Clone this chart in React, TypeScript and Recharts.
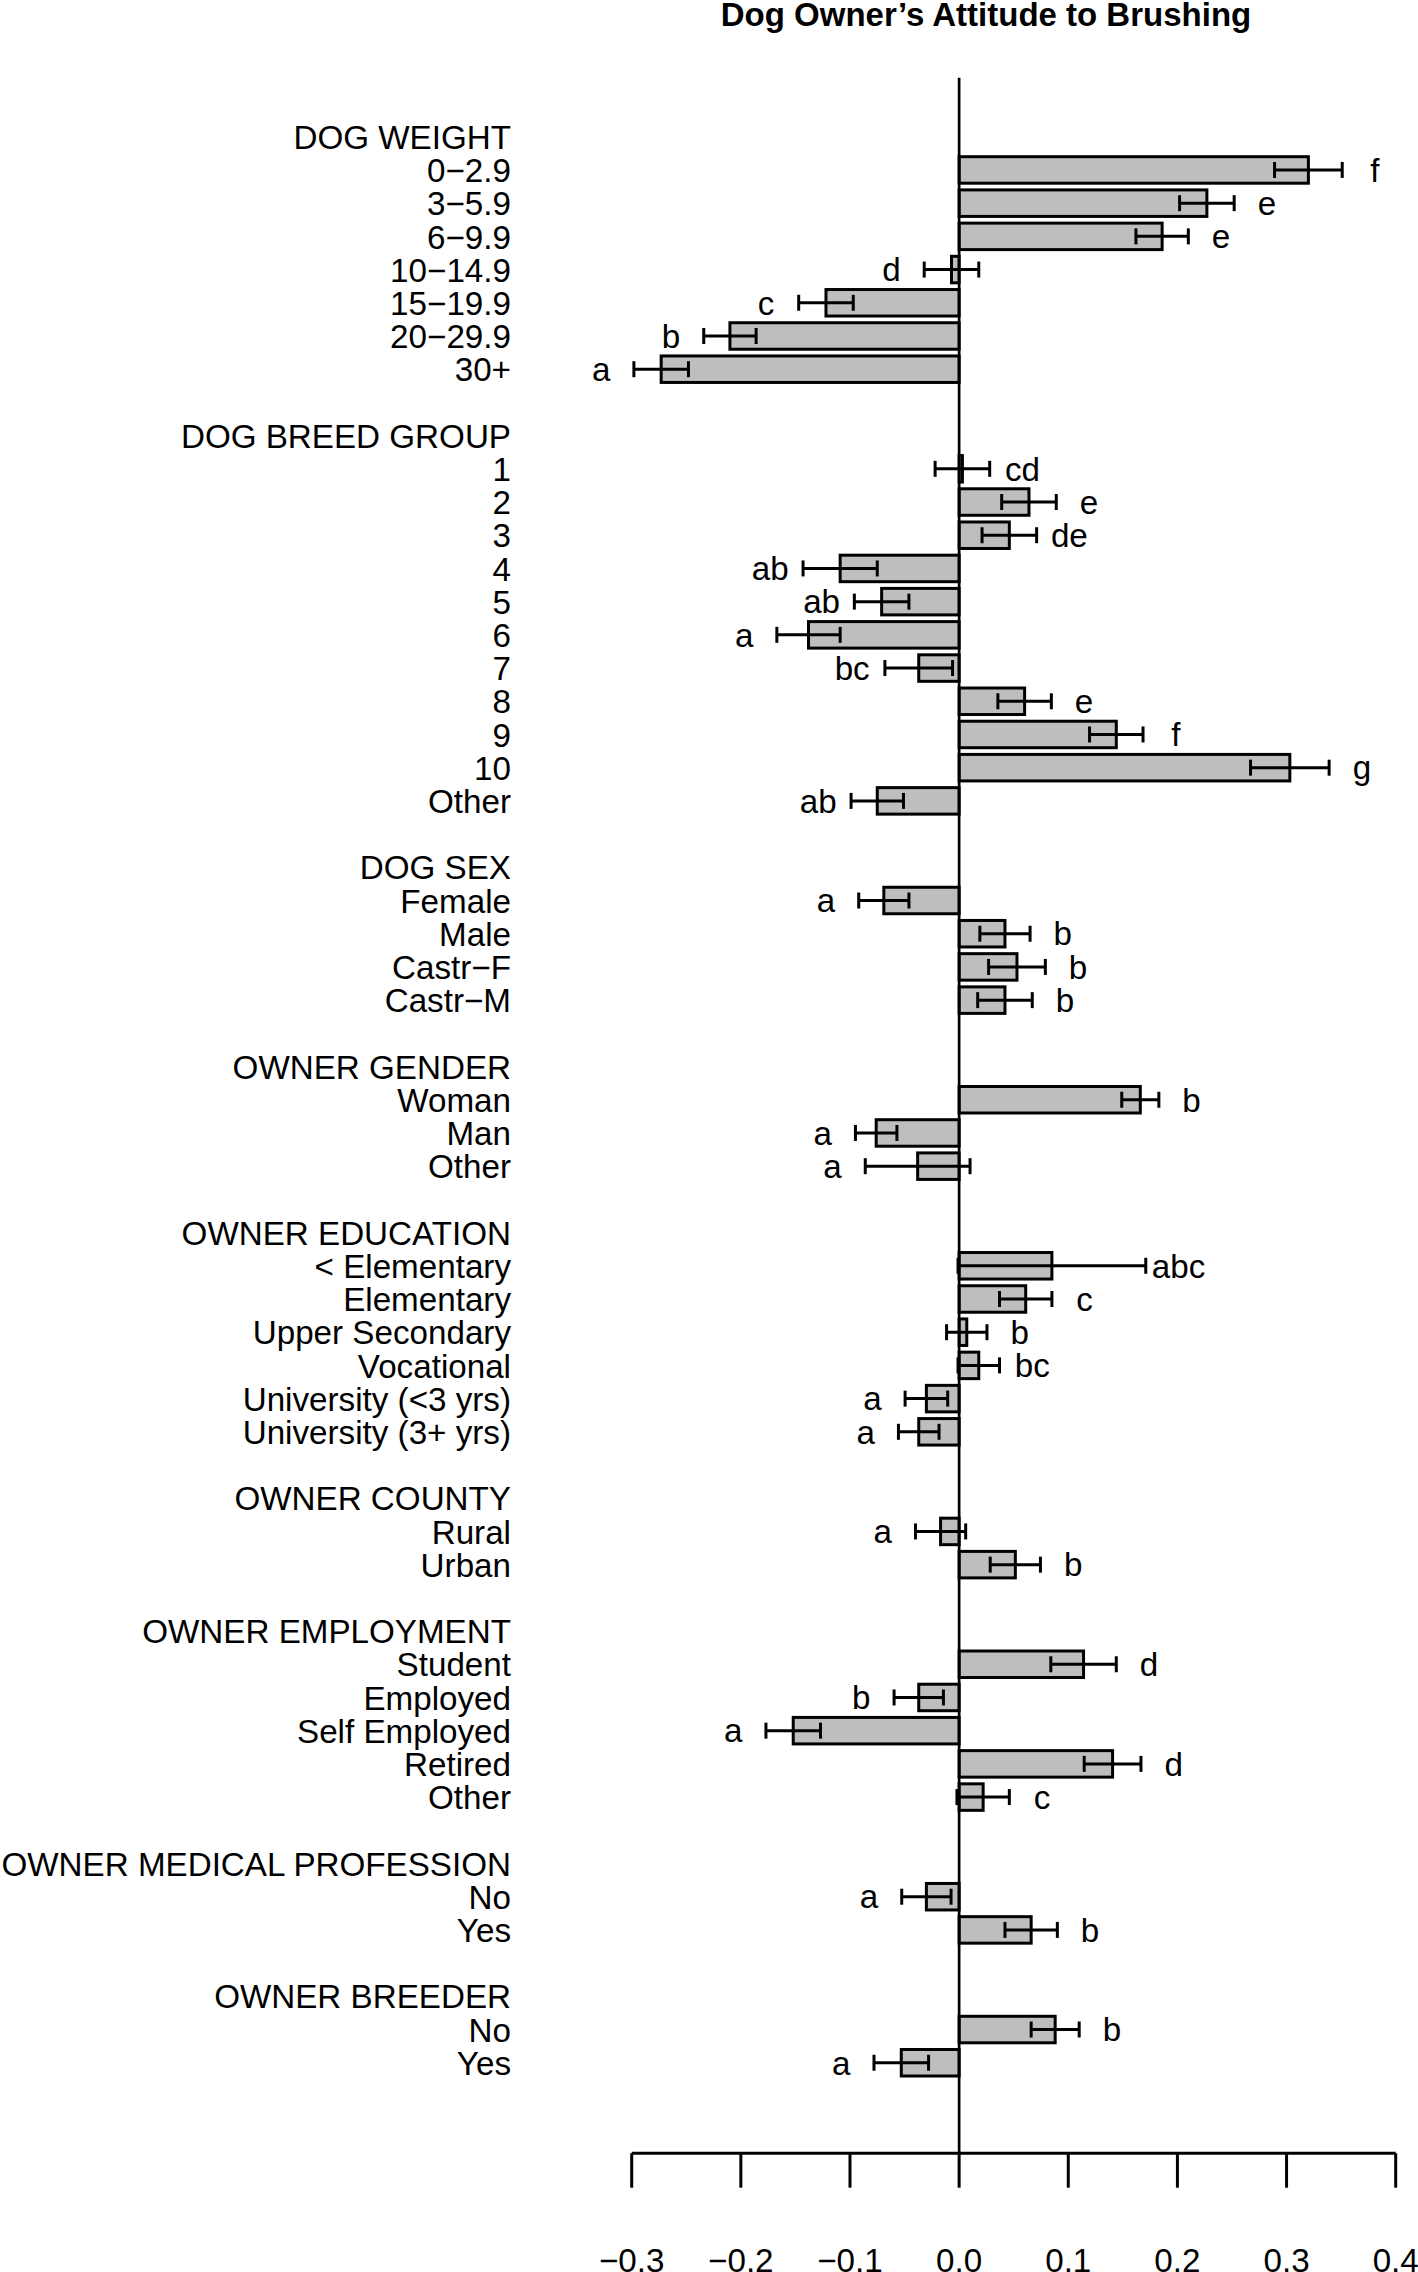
import React from "react";
import { BarChart, Bar, XAxis, YAxis, ErrorBar, ReferenceLine } from "recharts";

const FONT = "'Liberation Sans', Arial, Helvetica, sans-serif";
const MINUS = "\u2212";

// ---------- data ----------
const groupTitles = [
  "DOG WEIGHT",
  "DOG BREED GROUP",
  "DOG SEX",
  "OWNER GENDER",
  "OWNER EDUCATION",
  "OWNER COUNTY",
  "OWNER EMPLOYMENT",
  "OWNER MEDICAL PROFESSION",
  "OWNER BREEDER",
];

const weightLabels = ["0\u22122.9", "3\u22125.9", "6\u22129.9", "10\u221214.9", "15\u221219.9", "20\u221229.9", "30+"];
const weightMeans = [0.32, 0.227, 0.186, -0.007, -0.122, -0.21, -0.273];
const weightErrors = [0.031, 0.025, 0.024, 0.025, 0.025, 0.024, 0.025];
const weightLetters = ["f", "e", "e", "d", "c", "b", "a"];

const breedLabels = ["1", "2", "3", "4", "5", "6", "7", "8", "9", "10", "Other"];
const breedMeans = [0.003, 0.064, 0.046, -0.109, -0.071, -0.138, -0.037, 0.06, 0.144, 0.303, -0.075];
const breedErrors = [0.025, 0.025, 0.025, 0.034, 0.025, 0.029, 0.031, 0.0245, 0.0245, 0.036, 0.024];
const breedLetters = ["cd", "e", "de", "ab", "ab", "a", "bc", "e", "f", "g", "ab"];

const sexLabels = ["Female", "Male", "Castr\u2212F", "Castr\u2212M"];
const sexMeans = [-0.069, 0.042, 0.053, 0.042];
const sexErrors = [0.023, 0.023, 0.026, 0.025];
const sexLetters = ["a", "b", "b", "b"];

const genderLabels = ["Woman", "Man", "Other"];
const genderMeans = [0.166, -0.076, -0.038];
const genderErrors = [0.017, 0.019, 0.048];
const genderLetters = ["b", "a", "a"];

const educationLabels = ["< Elementary", "Elementary", "Upper Secondary", "Vocational", "University (<3 yrs)", "University (3+ yrs)"];
const educationMeans = [0.085, 0.061, 0.007, 0.018, -0.03, -0.037];
const educationErrors = [0.086, 0.024, 0.0185, 0.019, 0.0195, 0.0186];
const educationLetters = ["abc", "c", "b", "bc", "a", "a"];

const countyLabels = ["Rural", "Urban"];
const countyMeans = [-0.017, 0.0515];
const countyErrors = [0.023, 0.023];
const countyLetters = ["a", "b"];

const employmentLabels = ["Student", "Employed", "Self Employed", "Retired", "Other"];
const employmentMeans = [0.114, -0.037, -0.152, 0.1406, 0.022];
const employmentErrors = [0.03, 0.0226, 0.025, 0.026, 0.024];
const employmentLetters = ["d", "b", "a", "d", "c"];

const medicalLabels = ["No", "Yes"];
const medicalMeans = [-0.03, 0.066];
const medicalErrors = [0.0226, 0.024];
const medicalLetters = ["a", "b"];

const breederLabels = ["No", "Yes"];
const breederMeans = [0.088, -0.053];
const breederErrors = [0.022, 0.025];
const breederLetters = ["b", "a"];

const xTicks = [-0.3, -0.2, -0.1, 0, 0.1, 0.2, 0.3, 0.4];
const LETTER_OFFSET = 0.03;

// ---------- table built from the arrays ----------
const groups = [
  [weightLabels, weightMeans, weightErrors, weightLetters],
  [breedLabels, breedMeans, breedErrors, breedLetters],
  [sexLabels, sexMeans, sexErrors, sexLetters],
  [genderLabels, genderMeans, genderErrors, genderLetters],
  [educationLabels, educationMeans, educationErrors, educationLetters],
  [countyLabels, countyMeans, countyErrors, countyLetters],
  [employmentLabels, employmentMeans, employmentErrors, employmentLetters],
  [medicalLabels, medicalMeans, medicalErrors, medicalLetters],
  [breederLabels, breederMeans, breederErrors, breederLetters],
] as const;

type Row = { id: string; label: string; mean: number | null; err: number | null; letter: string };
const rows: Row[] = [];
groups.forEach((g, gi) => {
  const [labels, means, errs, lets] = g as any;
  rows.push({ id: `h${gi}`, label: groupTitles[gi], mean: null, err: null, letter: "" });
  labels.forEach((lab: string, i: number) => {
    rows.push({ id: `r${gi}_${i}`, label: lab, mean: means[i], err: errs[i], letter: lets[i] });
  });
  if (gi < groups.length - 1) rows.push({ id: `b${gi}`, label: "", mean: null, err: null, letter: "" });
});
const rowById: Record<string, Row> = {};
rows.forEach((r) => (rowById[r.id] = r));

// ---------- layout ----------
const W = 1418;
const H = 2272;
const FS = 33.2;

const RowTick = (props: any) => {
  const { x, y, payload } = props;
  const row = rowById[payload?.value];
  if (!row || !row.label) return <g />;
  return (
    <text x={x} y={y} dy="0.355em" textAnchor="end" fontSize={FS} fill="#000" fontFamily={FONT}>
      {row.label}
    </text>
  );
};

const BarShape = (props: any) => {
  const { x, y, width, height, payload } = props;
  if (!payload || payload.mean == null || ![x, y, width, height].every((n) => Number.isFinite(n))) return <g />;
  const v = payload.mean as number;
  const left = Math.min(x, x + width);
  const w = Math.abs(width);
  const top = Math.min(y, y + height);
  const h = Math.abs(height);
  const k = v !== 0 ? w / Math.abs(v) : 0;
  const zero = v >= 0 ? left : left + w;
  const dir = v >= 0 ? 1 : -1;
  const lx = zero + (v + dir * ((payload.err || 0) + LETTER_OFFSET)) * k;
  return (
    <g>
      <rect x={left} y={top} width={w} height={h} fill="#bebebe" stroke="#000" strokeWidth={3} />
      <text x={lx} y={top + h / 2} dy="0.355em" textAnchor="middle" fontSize={FS} fill="#000" fontFamily={FONT}>
        {payload.letter}
      </text>
    </g>
  );
};

const fmtTick = (v: number) => (v < 0 ? MINUS : "") + Math.abs(v).toFixed(1);

export default function App() {
  return (
    <div
      style={{
        position: "absolute",
        left: 0,
        top: 0,
        width: W,
        height: H,
        background: "#fff",
        fontFamily: FONT,
        overflow: "hidden",
      }}
    >
      <BarChart
        width={W}
        height={H}
        data={rows}
        layout="vertical"
        margin={{ top: 77.7, right: 22.3, bottom: 0, left: 0 }}
        barSize={26.5}
      >
        <XAxis
          type="number"
          domain={[-0.3, 0.4]}
          ticks={xTicks}
          interval={0}
          tickFormatter={fmtTick}
          height={118.7}
          axisLine={{ stroke: "#000", strokeWidth: 3 }}
          tickLine={{ stroke: "#000", strokeWidth: 3 }}
          tickSize={34.4}
          tickMargin={60.3}
          tick={{ fill: "#000", fontSize: FS, fontFamily: FONT }}
        />
        <YAxis
          type="category"
          dataKey="id"
          width={631.7}
          interval={0}
          axisLine={false}
          tickLine={false}
          tickSize={0}
          tickMargin={120.7}
          padding={{ top: 42.8, bottom: 73.6 }}
          tick={<RowTick />}
        />
        <Bar dataKey="mean" isAnimationActive={false} shape={<BarShape />}>
          <ErrorBar dataKey="err" direction="x" width={8} strokeWidth={3} stroke="#000" isAnimationActive={false} />
        </Bar>
        <ReferenceLine x={0} stroke="#000" strokeWidth={2.7} />
      </BarChart>
      <svg width={W} height={60} style={{ position: "absolute", left: 0, top: 0 }}>
        <text x={986} y={26} textAnchor="middle" fontWeight="bold" fontSize={33} fill="#000" fontFamily={FONT}>
          Dog Owner’s Attitude to Brushing
        </text>
      </svg>
    </div>
  );
}
